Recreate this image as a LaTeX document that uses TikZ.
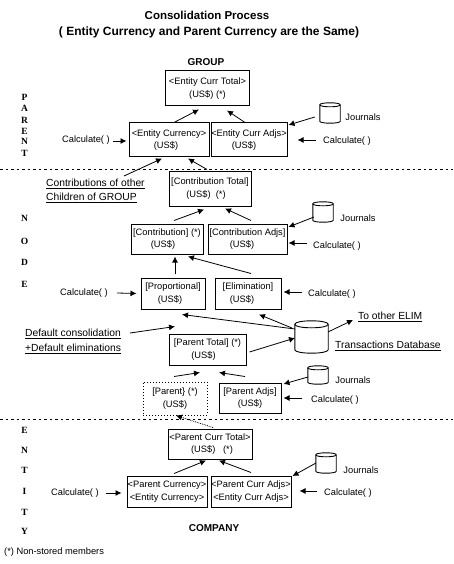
\documentclass[tikz,border=0pt]{standalone}
\usepackage{fontspec}
\setmainfont{Liberation Sans}
\newfontfamily\letterfont{Liberation Serif}
\usetikzlibrary{arrows.meta}
\newcommand{\usd}[1]{(US\$)\hspace*{#1pt}}
% name, rim depth
\newcommand{\drum}[2]{%
  \draw[dbline] ([shift={(0,#2)}]#1.north west)
    .. controls ([shift={(0,-#2/3)}]#1.north west) and ([shift={(0,-#2/3)}]#1.north east) .. ([shift={(0,#2)}]#1.north east)
    -- ([shift={(0,-#2)}]#1.south east)
    .. controls ([shift={(0,#2/3)}]#1.south east) and ([shift={(0,#2/3)}]#1.south west) .. ([shift={(0,-#2)}]#1.south west)
    -- cycle;
  \draw[dbline] ([shift={(0,#2)}]#1.north west)
    .. controls ([shift={(0,#2*7/3)}]#1.north west) and ([shift={(0,#2*7/3)}]#1.north east) .. ([shift={(0,#2)}]#1.north east);
}

\begin{document}
\begin{tikzpicture}[
  x=1pt, y=-1pt,
  box/.style={draw, line width=1pt, rectangle, inner sep=0pt, align=center,
    font=\fontsize{9.3}{12.7}\selectfont},
  arr/.style={-{Latex[length=6pt, width=6pt]}, line width=0.8pt},
  sep/.style={line width=0.8pt, dash pattern=on 2.5pt off 3pt},
  db/.style={rectangle, inner sep=0pt},
  dbline/.style={line width=0.9pt},
  lbl/.style={font=\fontsize{9.3}{12}\selectfont, inner sep=0pt},
  ul/.style={font=\fontsize{10.3}{12}\selectfont, inner sep=0pt, anchor=west},
  ttl/.style={font=\fontsize{10}{12}\bfseries\selectfont, inner sep=0pt},
  vlet/.style={font=\fontsize{9.5}{11}\bfseries\letterfont, inner sep=0pt},
]
  \useasboundingbox (0,0) rectangle (453,564);

  %% Titles
  \node[ttl, font=\fontsize{11.5}{12}\bfseries\selectfont] (title1) at (207,15) {Consolidation Process};
  \node[ttl, font=\fontsize{12}{12}\bfseries\selectfont] (title2) at (209,32) {( Entity Currency and Parent Currency are the Same)};
  \node[ttl] (group) at (206,62) {GROUP};
  \node[ttl] (company) at (214,528) {COMPANY};
  \node[lbl, anchor=west] (nonstored) at (4,552) {(*) Non-stored members};

  %% Level separators
  \coordinate (sepAl) at (0,169);
  \coordinate (sepAr) at (453,169);
  \coordinate (sepBl) at (0,419);
  \coordinate (sepBr) at (453,419);
  \draw[sep] (sepAl) -- (sepAr);
  \draw[sep] (sepBl) -- (sepBr);

  %% Side letters
  \foreach \y/\c in {97/P, 108/A, 120/R, 131/E, 141/N, 153/T,
                     218/N, 241/O, 262/D, 284/E,
                     430/E, 450/N, 470/T, 491/I, 512/T, 531/Y} {
    \node[vlet] (let\y) at (24.5,\y) {\c};
  }

  %% Parent
  \node[box, minimum width=84pt, minimum height=35pt] (enttot) at (207.5,88.5) {<Entity Curr Total>\\(US\$) (*)};
  \node[box, minimum width=80pt, minimum height=34pt] (entcur) at (169,140) {<Entity Currency>\\\usd{6}};
  \node[box, minimum width=76pt, minimum height=34pt] (entadj) at (249,140) {<Entity Curr Adjs>\\\usd{10}};

  %% Node
  \node[box, minimum width=82pt, minimum height=35pt] (contot) at (210,188.5) {[Contribution Total]\\(US\$)\ \ (*)\hspace*{8pt}};
  \node[box, minimum width=72pt, minimum height=30pt] (contr) at (167,239) {[Contribution] (*)\\\usd{8}};
  \node[box, minimum width=79pt, minimum height=30pt] (conadj) at (247.5,239) {[Contribution Adjs]\\\usd{11}};
  \node[box, minimum width=64pt, minimum height=31pt] (prop) at (173,293.5) {[Proportional]\\\usd{6}};
  \node[box, minimum width=66pt, minimum height=31pt] (elim) at (248,293.5) {[Elimination]\\\usd{12}};
  \node[box, minimum width=77pt, minimum height=31pt] (partot) at (207.5,349.5) {[Parent Total] (*)\\\usd{8}};
  \node[box, dotted, minimum width=64pt, minimum height=33pt] (parent) at (175,398.5) {[Parent\} (*)\\(US\$)};
  \node[box, minimum width=62pt, minimum height=30pt] (paradj) at (250,398) {[Parent Adjs]\\(US\$)};

  %% Entity
  \node[box, minimum width=84pt, minimum height=30pt] (pcttot) at (210,444) {<Parent Curr Total>\\(US\$)\ \ \ (*)\hspace*{-4pt}};
  \node[box, minimum width=80pt, minimum height=31pt] (pcur) at (167,491.5) {<Parent Currency>\\<Entity Currency>};
  \node[box, minimum width=80pt, minimum height=31pt] (pcadj) at (251,491.5) {<Parent Curr Adjs>\\<Entity Curr Adjs>};

  %% Stores
  \node[db, minimum width=20pt, minimum height=20pt] (jrnA) at (330,113) {};
  \node[db, minimum width=20pt, minimum height=20pt] (jrnB) at (323,212) {};
  \node[db, minimum width=33pt, minimum height=32pt] (trans) at (311.5,337) {};
  \node[db, minimum width=20pt, minimum height=18pt] (jrnC) at (318,375) {};
  \node[db, minimum width=20pt, minimum height=20pt] (jrnD) at (326,463) {};
  \drum{jrnA}{2}
  \drum{jrnB}{2}
  \drum{trans}{3.5}
  \drum{jrnC}{2}
  \drum{jrnD}{2}
  \node[lbl] (jlabA) at (363,117) {Journals};
  \node[lbl] (jlabB) at (358,218) {Journals};
  \node[lbl] (jlabC) at (353,380) {Journals};
  \node[lbl] (jlabD) at (361,470) {Journals};

  %% Calculate labels
  \node[lbl] (calcA) at (86,140) {Calculate( )};
  \node[lbl] (calcB) at (347,141) {Calculate( )};
  \node[lbl] (calcC) at (337,246) {Calculate( )};
  \node[lbl] (calcD) at (84,293) {Calculate( )};
  \node[lbl] (calcE) at (332,294) {Calculate( )};
  \node[lbl] (calcF) at (335,400) {Calculate( )};
  \node[lbl] (calcG) at (75,493) {Calculate( )};
  \node[lbl] (calcH) at (348,493) {Calculate( )};

  %% Underlined notes
  \node[ul] (noteA) at (46,184) {\underline{Contributions of other}};
  \node[ul] (noteB) at (46,198) {\underline{Children of GROUP}};
  \node[ul] (noteC) at (25,334) {\underline{Default consolidation}};
  \node[ul] (noteD) at (25,349) {\underline{+Default eliminations}};
  \node[ul] (noteE) at (358,317) {\underline{To other ELIM}};
  \node[ul] (noteF) at (335,346) {\underline{Transactions Database}};

  %% Arrows in Parent
  \draw[arr] ([shift={(5,0)}]entcur.north) -- ([shift={(-8.5,3)}]enttot.south);
  \draw[arr] ([shift={(-4,0)}]entadj.north) -- ([shift={(19.5,4)}]enttot.south);
  \draw[arr] ([shift={(-5,4)}]jrnA.west) -- ([shift={(1,-15)}]entadj.east);
  \draw[arr] ([shift={(27,1)}]calcA.center) -- ([shift={(-2,1)}]entcur.west);
  \draw[arr] ([shift={(-31,-1)}]calcB.center) -- ([shift={(10,0)}]entadj.east);
  \draw[arr] ([shift={(78,-8)}]noteA.west) -- ([shift={(-7,1)}]entcur.south);
  \draw[arr] ([shift={(-3,-1)}]contot.north) -- ([shift={(19,1)}]entcur.south);

  %% Arrows in Node
  \draw[arr] ([shift={(7,-3)}]contr.north) -- ([shift={(-6,3)}]contot.south);
  \draw[arr] ([shift={(3.5,-3)}]conadj.north) -- ([shift={(15,2)}]contot.south);
  \draw[arr] ([shift={(-9,5)}]jrnB.center) -- ([shift={(1,-12)}]conadj.east);
  \draw[arr] ([shift={(-30,-3)}]calcC.center) -- ([shift={(1,4)}]conadj.east);
  \draw[arr] ([shift={(2,-4)}]prop.north) -- ([shift={(8,2)}]contr.south);
  \draw[arr] ([shift={(3,-4)}]elim.north) -- ([shift={(21,2)}]contr.south);
  \draw[arr] ([shift={(33,0)}]calcD.center) -- ([shift={(-4,0)}]prop.west);
  \draw[arr] ([shift={(-30,-2)}]calcE.center) -- ([shift={(2,-1.5)}]elim.east);
  \draw[arr] ([shift={(-16.5,-8)}]trans.center) -- ([shift={(9,5)}]prop.south);
  \draw[arr] ([shift={(-19.5,-9)}]trans.center) -- ([shift={(11,5)}]elim.south);
  \draw[arr] ([shift={(16.5,-5)}]trans.center) -- ([shift={(-5,3)}]noteE.west);
  \draw[arr] ([shift={(105,-1)}]noteC.west) -- ([shift={(-32.5,-7)}]partot.north);
  \draw[arr] ([shift={(3,2.5)}]partot.east) -- ([shift={(-16.5,1)}]trans.center);

  %% Arrows below Parent Total
  \draw[arr] ([shift={(-1,-5)}]parent.north) -- ([shift={(-7.5,7)}]partot.south);
  \draw[arr] ([shift={(-5,-6)}]paradj.north) -- ([shift={(11.5,7)}]partot.south);
  \draw[arr] ([shift={(-10,2)}]jrnC.center) -- ([shift={(2,-14)}]paradj.east);
  \draw[arr] ([shift={(-33,-2)}]calcF.center) -- ([shift={(2,0)}]paradj.east);
  \draw[arr, densely dotted] ([shift={(3,-1)}]pcttot.north) -- ([shift={(1,0)}]parent.south);

  %% Arrows in Entity
  \draw[arr] ([shift={(7,-2)}]pcur.north) -- ([shift={(-4,1)}]pcttot.south);
  \draw[arr] ([shift={(0,-3)}]pcadj.north) -- ([shift={(9,1)}]pcttot.south);
  \draw[arr] ([shift={(-10,0)}]jrnD.center) -- ([shift={(1,-15.5)}]pcadj.east);
  \draw[arr] ([shift={(31,0)}]calcG.center) -- ([shift={(-5,1.5)}]pcur.west);
  \draw[arr] ([shift={(-31,-2)}]calcH.center) -- ([shift={(8,-0.5)}]pcadj.east);
\end{tikzpicture}
\end{document}
